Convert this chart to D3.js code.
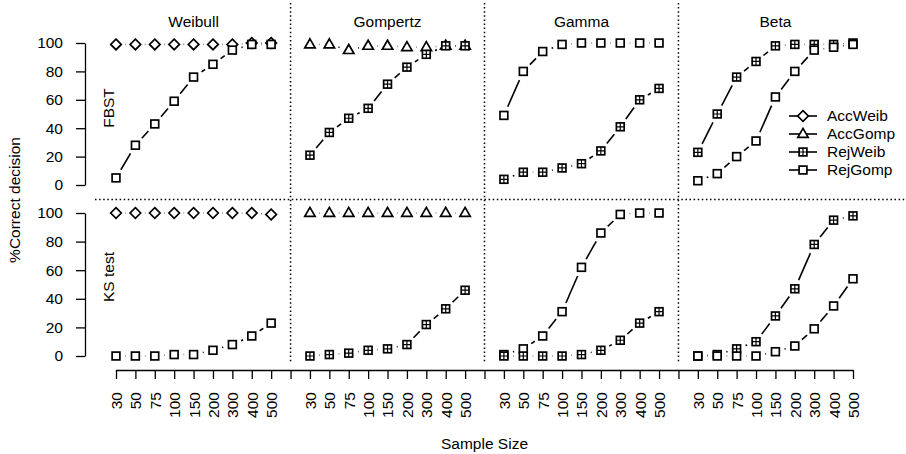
<!DOCTYPE html>
<html>
<head>
<meta charset="utf-8">
<script src="https://cdn.jsdelivr.net/npm/d3@7"></script>
<style>
  body { margin: 0; background: #fff; }
  text { font-family: "Liberation Sans", Arial, sans-serif; fill: #000; }
</style>
</head>
<body>
<svg id="chart" width="906" height="454"></svg>
<script>
// data
const sampleSizes = ["30", "50", "75", "100", "150", "200", "300", "400", "500"];
const distributions = ["Weibull", "Gompertz", "Gamma", "Beta"];
const tests = ["FBST", "KS test"];
const legendNames = ["AccWeib", "AccGomp", "RejWeib", "RejGomp"];
const yTicks = [0, 20, 40, 60, 80, 100];

// FBST row
const fbstWeibullAccWeib = [99, 99, 99, 99, 99, 99, 99, 100, 100];
const fbstWeibullRejGomp = [5, 28, 43, 59, 76, 85, 95, 99, 99];
const fbstGompertzAccGomp = [99, 99, 95, 98, 98, 97, 97, 98, 98];
const fbstGompertzRejWeib = [21, 37, 47, 54, 71, 83, 92, 98, 98];
const fbstGammaRejGomp = [49, 80, 94, 99, 100, 100, 100, 100, 100];
const fbstGammaRejWeib = [4, 9, 9, 12, 15, 24, 41, 60, 68];
const fbstBetaRejWeib = [23, 50, 76, 87, 98, 99, 99, 99, 100];
const fbstBetaRejGomp = [3, 8, 20, 31, 62, 80, 95, 97, 99];

// KS test row
const ksWeibullAccWeib = [100, 100, 100, 100, 100, 100, 100, 100, 99];
const ksWeibullRejGomp = [0, 0, 0, 1, 1, 4, 8, 14, 23];
const ksGompertzAccGomp = [100, 100, 100, 100, 100, 100, 100, 100, 100];
const ksGompertzRejWeib = [0, 1, 2, 4, 5, 8, 22, 33, 46];
const ksGammaRejGomp = [1, 5, 14, 31, 62, 86, 99, 100, 100];
const ksGammaRejWeib = [0, 0, 0, 0, 1, 4, 11, 23, 31];
const ksBetaRejWeib = [0, 1, 5, 10, 28, 47, 78, 95, 98];
const ksBetaRejGomp = [0, 0, 0, 0, 3, 7, 19, 35, 54];

// which series sits in which panel
const panels = [
  { test: 0, dist: 0, series: [["AccWeib", fbstWeibullAccWeib], ["RejGomp", fbstWeibullRejGomp]] },
  { test: 0, dist: 1, series: [["AccGomp", fbstGompertzAccGomp], ["RejWeib", fbstGompertzRejWeib]] },
  { test: 0, dist: 2, series: [["RejGomp", fbstGammaRejGomp], ["RejWeib", fbstGammaRejWeib]] },
  { test: 0, dist: 3, series: [["RejWeib", fbstBetaRejWeib], ["RejGomp", fbstBetaRejGomp]] },
  { test: 1, dist: 0, series: [["AccWeib", ksWeibullAccWeib], ["RejGomp", ksWeibullRejGomp]] },
  { test: 1, dist: 1, series: [["AccGomp", ksGompertzAccGomp], ["RejWeib", ksGompertzRejWeib]] },
  { test: 1, dist: 2, series: [["RejGomp", ksGammaRejGomp], ["RejWeib", ksGammaRejWeib]] },
  { test: 1, dist: 3, series: [["RejWeib", ksBetaRejWeib], ["RejGomp", ksBetaRejGomp]] }
];

const svg = d3.select("#chart");
const font = "'Liberation Sans', Arial, sans-serif";

// one x position per sample size, with an empty slot between distributions
const xKeys = [];
distributions.forEach((d, i) => {
  sampleSizes.forEach(s => xKeys.push(d + "|" + s));
  if (i < distributions.length - 1) xKeys.push(d + "|gap");
});
const x = d3.scalePoint().domain(xKeys).range([116, 853]);

const yScales = [
  d3.scaleLinear().domain([0, 100]).range([185, 43]),
  d3.scaleLinear().domain([0, 100]).range([356, 213])
];

// marker shapes (R pch 5, 2, 12, 0)
function drawMarker(g, name) {
  const m = g.append("g").attr("fill", "#fff").attr("stroke", "#000").attr("stroke-width", 1.7);
  if (name === "AccWeib") {
    m.append("path").attr("d", "M0,-5.3L5.3,0L0,5.3L-5.3,0Z");
  } else if (name === "AccGomp") {
    m.append("path").attr("d", "M0,-5.6L5.2,3.4L-5.2,3.4Z");
  } else if (name === "RejWeib") {
    m.append("rect").attr("x", -3.9).attr("y", -3.9).attr("width", 7.8).attr("height", 7.8);
    m.append("path").attr("d", "M0,-3.9V3.9M-3.9,0H3.9").attr("stroke-width", 1.2);
  } else {
    m.append("rect").attr("x", -3.9).attr("y", -3.9).attr("width", 7.8).attr("height", 7.8);
  }
}

// segments between points, cut back near each point as in type = "b"
const gap = 9.5;
function drawSeries(y, dist, values) {
  const pts = values.map((v, j) => [x(distributions[dist] + "|" + sampleSizes[j]), y(v)]);
  d3.pairs(pts).forEach(([a, b]) => {
    const dx = b[0] - a[0], dy = b[1] - a[1];
    const len = Math.hypot(dx, dy);
    if (len <= 2 * gap) return;
    const ux = dx / len, uy = dy / len;
    svg.append("line")
      .attr("x1", a[0] + ux * gap).attr("y1", a[1] + uy * gap)
      .attr("x2", b[0] - ux * gap).attr("y2", b[1] - uy * gap)
      .attr("stroke", "#000").attr("stroke-width", 1.6);
  });
  return pts;
}

// panel separators
distributions.slice(0, -1).forEach(d => {
  svg.append("line")
    .attr("x1", x(d + "|gap")).attr("x2", x(d + "|gap"))
    .attr("y1", 3).attr("y2", 362)
    .attr("stroke", "#000").attr("stroke-width", 1.5)
    .attr("stroke-dasharray", "1.5,2.6");
});
svg.append("line")
  .attr("x1", 95).attr("x2", 906)
  .attr("y1", 199.5).attr("y2", 199.5)
  .attr("stroke", "#000").attr("stroke-width", 1.5)
  .attr("stroke-dasharray", "1.5,2.6");

// series
panels.forEach(p => {
  const y = yScales[p.test];
  const drawn = p.series.map(([name, values]) => [name, drawSeries(y, p.dist, values)]);
  drawn.forEach(([name, pts]) => {
    pts.forEach(pt => drawMarker(svg.append("g").attr("transform", `translate(${pt[0]},${pt[1]})`), name));
  });
});

// y axes
yScales.forEach(y => {
  const g = svg.append("g").attr("transform", "translate(85,0)")
    .call(d3.axisLeft(y).tickValues(yTicks).tickSize(9).tickSizeOuter(0).tickPadding(13));
  g.selectAll("path, line").attr("stroke", "#000").attr("stroke-width", 1.3);
  g.selectAll("text").attr("font-size", 15.5).attr("font-family", font).attr("fill", "#000");
});

// x axis
const xAxis = svg.append("g").attr("transform", "translate(0,370)")
  .call(d3.axisBottom(x).tickSize(9).tickSizeOuter(0)
    .tickFormat(k => k.split("|")[1] === "gap" ? "" : k.split("|")[1]));
xAxis.selectAll("path, line").attr("stroke", "#000").attr("stroke-width", 1.3);
xAxis.selectAll("text")
  .attr("font-size", 15.5).attr("font-family", font).attr("fill", "#000")
  .attr("transform", "rotate(-90)")
  .attr("x", -22).attr("y", 0).attr("dy", "0.35em")
  .attr("text-anchor", "end");

// column titles
distributions.forEach(d => {
  svg.append("text")
    .attr("x", x(d + "|150")).attr("y", 27)
    .attr("text-anchor", "middle").attr("font-size", 15.5)
    .text(d);
});

// row labels
const rowLabelY = [108, 277];
tests.forEach((t, i) => {
  svg.append("text")
    .attr("transform", `translate(114,${rowLabelY[i]}) rotate(-90)`)
    .attr("text-anchor", "middle").attr("font-size", 15.5)
    .text(t);
});

// axis titles
svg.append("text")
  .attr("x", (x.range()[0] + x.range()[1]) / 2)
  .attr("y", 449).attr("text-anchor", "middle").attr("font-size", 15.5)
  .text("Sample Size");
svg.append("text")
  .attr("transform", "translate(20,200) rotate(-90)")
  .attr("text-anchor", "middle").attr("font-size", 15.5)
  .text("%Correct decision");

// legend
const legend = svg.append("g").attr("transform", "translate(789,116)");
legendNames.forEach((name, i) => {
  const row = legend.append("g").attr("transform", `translate(0,${i * 18})`);
  row.append("line").attr("x1", 0).attr("x2", 28).attr("y1", 0).attr("y2", 0)
    .attr("stroke", "#000").attr("stroke-width", 1.6);
  drawMarker(row.append("g").attr("transform", "translate(14,0)"), name);
  row.append("text").attr("x", 38).attr("y", 0).attr("dy", "0.35em")
    .attr("font-size", 15.5).text(name);
});
</script>
</body>
</html>
